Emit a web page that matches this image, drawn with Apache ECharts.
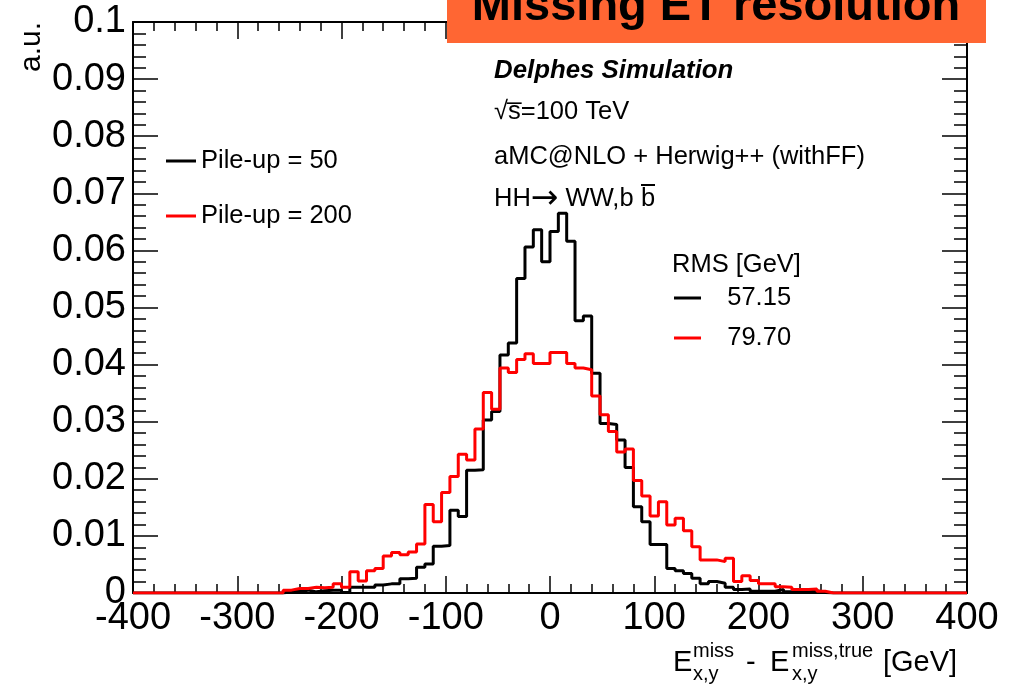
<!DOCTYPE html>
<html>
<head>
<meta charset="utf-8">
<script src="https://cdn.jsdelivr.net/npm/echarts@6/dist/echarts.min.js"></script>
<style>
  html, body { margin: 0; padding: 0; background: #fff; }
  #chart { width: 1013px; height: 686px; }
</style>
</head>
<body>
<div id="chart"></div>
<script>
// histogram binning: 100 bins of 8 GeV from -400 to 400
var binLow = -400
var binWidth = 8

// Pile-up = 50 (black)
var pu50 = [
  0, 0, 0, 0, 0, 0, 0, 0, 0, 0,
  0, 0, 0, 0, 0, 0, 0, 0, 0.0002, 0.0003,
  0.0005, 0.0002, 0.0004, 0.0005, 0.0005, 0.0001, 0.0010, 0.0010, 0.0010, 0.0014,
  0.0016, 0.0016, 0.0025, 0.0026, 0.0045, 0.0051, 0.0082, 0.0083, 0.0145, 0.0134,
  0.0215, 0.0216, 0.0303, 0.0318, 0.0417, 0.0438, 0.0551, 0.0606, 0.0636, 0.0580,
  0.0633, 0.0665, 0.0616, 0.0477, 0.0485, 0.0385, 0.0297, 0.0295, 0.0268, 0.0220,
  0.0151, 0.0125, 0.0085, 0.0085, 0.0043, 0.0039, 0.0034, 0.0026, 0.0016, 0.0020,
  0.0017, 0.0010, 0.0006, 0.0007, 0.0003, 0.0003, 0.0003, 0.0006, 0.0002, 0.0002,
  0.0002, 0.0004, 0.0001, 0, 0, 0, 0, 0, 0, 0,
  0, 0, 0, 0, 0, 0, 0, 0, 0, 0
]

// Pile-up = 200 (red)
var pu200 = [
  0, 0, 0, 0, 0, 0, 0, 0, 0, 0,
  0, 0, 0, 0, 0, 0, 0, 0, 0.0005, 0.0008,
  0.0008, 0.0010, 0.0009, 0.0010, 0.0016, 0.0010, 0.0037, 0.0021, 0.0039, 0.0043,
  0.0065, 0.0071, 0.0067, 0.0072, 0.0086, 0.0155, 0.0125, 0.0176, 0.0204, 0.0243,
  0.0233, 0.0287, 0.0351, 0.0322, 0.0394, 0.0386, 0.0409, 0.0419, 0.0402, 0.0402,
  0.0421, 0.0421, 0.0402, 0.0394, 0.0391, 0.0345, 0.0312, 0.0283, 0.0247, 0.0252,
  0.0197, 0.0170, 0.0135, 0.0160, 0.0119, 0.0131, 0.0109, 0.0081, 0.0058, 0.0058,
  0.0055, 0.0061, 0.0020, 0.0030, 0.0022, 0.0016, 0.0016, 0.0011, 0.0010, 0.0006,
  0.0006, 0.0007, 0.0003, 0, 0, 0, 0, 0, 0, 0,
  0, 0, 0, 0, 0, 0, 0, 0, 0, 0
]

var seriesNames = ['Pile-up = 50', 'Pile-up = 200']
var seriesColors = ['#000000', '#ff0000']
var rmsValues = ['57.15', '79.70']

var FONT = '"Liberation Sans", Arial, Helvetica, sans-serif'
var TXT = 25.5

// bin edges -> step points
function toSteps (values) {
  var pts = values.map(function (v, i) { return [binLow + i * binWidth, v] })
  pts.push([binLow + values.length * binWidth, values[values.length - 1]])
  return pts
}

function axisCommon (showLabel, tickLen, minorLen) {
  return {
    axisLine: { show: true, onZero: false, lineStyle: { color: '#000', width: 2 } },
    axisTick: { show: true, inside: true, length: tickLen, lineStyle: { color: '#000', width: 1.5 } },
    minorTick: { show: true, splitNumber: 5, length: minorLen, lineStyle: { color: '#000', width: 1.5 } },
    splitLine: { show: false },
    minorSplitLine: { show: false },
    axisLabel: { show: showLabel }
  }
}

var chart = echarts.init(document.getElementById('chart'), null, { renderer: 'canvas' })

var xBottom = Object.assign(axisCommon(true, 17, 9), {
  type: 'value', min: -400, max: 400, interval: 100, position: 'bottom'
})
xBottom.axisLabel = { show: true, fontSize: 38, fontFamily: FONT, color: '#000', margin: 7, showMinLabel: true, showMaxLabel: true }
var xTop = Object.assign(axisCommon(false, 17, 9), {
  type: 'value', min: -400, max: 400, interval: 100, position: 'top'
})
var yLeft = Object.assign(axisCommon(true, 25, 13), {
  type: 'value', min: 0, max: 0.1, interval: 0.01, position: 'left'
})
yLeft.axisLabel = {
  show: true, fontSize: 38, fontFamily: FONT, color: '#000', margin: 7, showMinLabel: true, showMaxLabel: true,
  formatter: function (v) { return v === 0 ? '0' : String(+v.toFixed(2)) }
}
var yRight = Object.assign(axisCommon(false, 25, 13), {
  type: 'value', min: 0, max: 0.1, interval: 0.01, position: 'right'
})

function txt (x, y, text, size, extra) {
  return {
    type: 'text', x: x, y: y, z: 100,
    style: Object.assign({
      text: text, fontSize: size, fontFamily: FONT, fill: '#000',
      align: 'left', verticalAlign: 'middle'
    }, extra || {})
  }
}

var legendText = { fontSize: TXT, fontFamily: FONT, color: '#000' }

chart.setOption({
  backgroundColor: '#fff',
  animation: false,
  grid: { left: 133, right: 46, top: 22, bottom: 93 },
  xAxis: [xBottom, xTop],
  yAxis: [yLeft, yRight],
  legend: [
    {
      data: [seriesNames[0]], left: 166, top: 148, padding: 0, icon: 'rect',
      itemWidth: 30, itemHeight: 3, textStyle: legendText
    },
    {
      data: [seriesNames[1]], left: 166, top: 203, padding: 0, icon: 'rect',
      itemWidth: 30, itemHeight: 3, textStyle: legendText
    },
    {
      data: seriesNames, left: 674, top: 285, padding: 0, orient: 'vertical', itemGap: 14, icon: 'rect',
      itemWidth: 27, itemHeight: 3, textStyle: legendText,
      formatter: function (name) { return '   ' + rmsValues[seriesNames.indexOf(name)] }
    }
  ],
  series: [
    {
      name: seriesNames[0], type: 'line', step: 'end', showSymbol: false, symbol: 'none',
      data: toSteps(pu50), color: seriesColors[0],
      lineStyle: { color: seriesColors[0], width: 3 }, z: 2
    },
    {
      name: seriesNames[1], type: 'line', step: 'end', showSymbol: false, symbol: 'none',
      data: toSteps(pu200), color: seriesColors[1],
      lineStyle: { color: seriesColors[1], width: 3 }, z: 3
    }
  ],
  graphic: [
    // title banner
    { type: 'rect', shape: { x: 447, y: -2, width: 539, height: 45 }, style: { fill: '#ff6633' }, z: 90 },
    txt(716, 7, 'Missing ET resolution', 47, { fontWeight: 'bold', align: 'center' }),
    // y axis title
    txt(32, 22, 'a.u.', 30, { align: 'right' }),
    // info text
    txt(494, 71, 'Delphes Simulation', 25.8, { fontWeight: 'bold', fontStyle: 'italic' }),
    txt(494, 112, '√s̅=100 TeV', TXT),
    txt(494, 157, 'aMC@NLO + Herwig++ (withFF)', TXT),
    txt(494, 199, 'HH{a|→} WW,b', TXT, {
      rich: { a: { fontFamily: '"DejaVu Sans"', fontSize: 33, fill: '#000' } }
    }),
    txt(641, 199, 'b', TXT),
    { type: 'line', z: 100, shape: { x1: 641, y1: 185, x2: 655, y2: 185 }, style: { stroke: '#000', lineWidth: 2 } },
    txt(672, 265, 'RMS [GeV]', TXT),
    // x axis title
    txt(673, 663, 'E', 29),
    txt(693, 651, 'miss', 20),
    txt(693, 674, 'x,y', 20),
    txt(746, 663, '-', 29),
    txt(770, 663, 'E', 29),
    txt(792, 651, 'miss,true', 20),
    txt(792, 674, 'x,y', 20),
    txt(883, 663, '[GeV]', 29)
  ]
})

// rotate the y title
var opt = chart.getOption()
opt.graphic[0].elements[2].rotation = Math.PI / 2
chart.setOption({ graphic: opt.graphic })
</script>
</body>
</html>
